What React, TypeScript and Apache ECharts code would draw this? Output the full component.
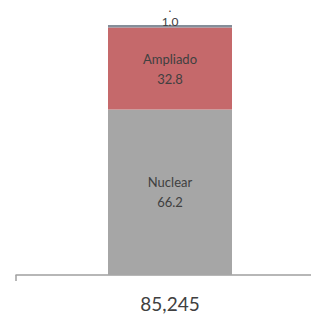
import React, { useEffect, useRef } from "react";
import * as echarts from "echarts";

const categories = ["85,245"];
const seriesNames = ["Nuclear", "Ampliado", "."];
const nuclearValues = [66.2];
const ampliadoValues = [32.8];
const otherValues = [1.0];
const colors = ["#A6A6A6", "#C5696B", "#858E99"];

export default function App() {
  const ref = useRef<HTMLDivElement>(null);
  useEffect(() => {
    if (!ref.current) return;
    const chart = echarts.init(ref.current, undefined, { renderer: "svg" });
    const font = "Lato, 'Open Sans', sans-serif";
    const inside = {
      show: true,
      position: "inside",
      formatter: (p: any) => `${p.seriesName}\n${p.value.toFixed(1)}`,
      color: "#404040",
      fontSize: 13,
      lineHeight: 20,
      fontFamily: font,
    };
    chart.setOption({
      animation: false,
      grid: { left: 16, right: -13, top: 25, bottom: 39, outerBoundsMode: "none", containLabel: false },
      xAxis: {
        type: "category",
        data: categories,
        axisLine: { lineStyle: { color: "#A0A0A0", width: 1.5 } },
        axisTick: { show: true, length: 6, lineStyle: { color: "#A0A0A0", width: 1.5 } },
        axisLabel: { color: "#404040", fontSize: 19, fontFamily: font, margin: 19 },
      },
      yAxis: { type: "value", min: 0, max: 100, show: false },
      series: [
        {
          name: seriesNames[0],
          type: "bar",
          stack: "s",
          data: nuclearValues,
          barWidth: 124,
          itemStyle: { color: colors[0] },
          label: inside,
        },
        {
          name: seriesNames[1],
          type: "bar",
          stack: "s",
          data: ampliadoValues,
          itemStyle: { color: colors[1] },
          label: inside,
        },
        {
          name: seriesNames[2],
          type: "bar",
          stack: "s",
          data: otherValues,
          itemStyle: { color: colors[2] },
          label: {
            show: true,
            position: "top",
            distance: -4,
            formatter: (p: any) => `${p.seriesName}\n${p.value.toFixed(1)}`,
            color: "#404040",
            fontSize: 12,
            lineHeight: 14.5,
            fontFamily: font,
          },
        },
      ],
    });
    return () => chart.dispose();
  }, []);
  return <div ref={ref} style={{ width: 311, height: 314, position: "absolute", left: 0, top: 0 }} />;
}
